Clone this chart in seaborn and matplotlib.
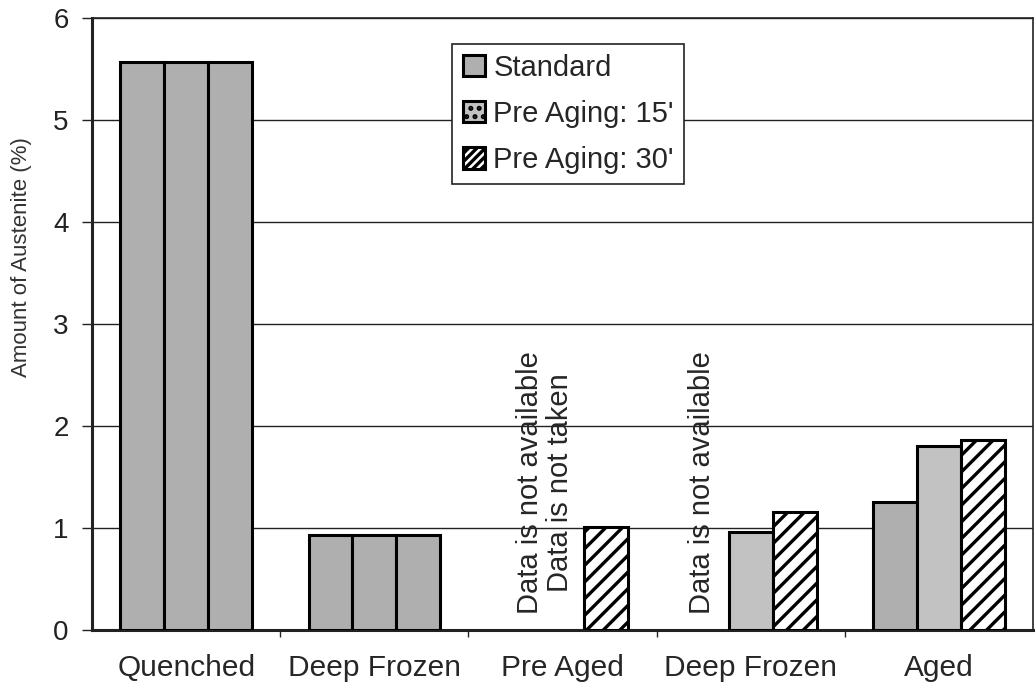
import numpy as np
import pandas as pd
import seaborn as sns
import matplotlib
matplotlib.use('Agg')
import matplotlib.pyplot as plt

sns.set_style('white')
plt.rcParams['font.family'] = ['Liberation Sans', 'DejaVu Sans']
plt.rcParams['hatch.linewidth'] = 2.4

# data
categories = ['Quenched', 'Deep Frozen 1', 'Pre Aged', 'Deep Frozen 2', 'Aged']
tick_labels = ['Quenched', 'Deep Frozen', 'Pre Aged', 'Deep Frozen', 'Aged']
series = ['Standard', "Pre Aging: 15'", "Pre Aging: 30'"]
standard = [5.57, 0.93, np.nan, np.nan, 1.25]
pre_aging_15 = [5.57, 0.93, np.nan, 0.96, 1.80]
pre_aging_30 = [5.57, 0.93, 1.01, 1.16, 1.86]

df = pd.DataFrame({'category': categories,
                   series[0]: standard,
                   series[1]: pre_aging_15,
                   series[2]: pre_aging_30})
df_long = pd.melt(df, id_vars=['category'], value_vars=series)

gray_std = '#afafaf'
gray_15 = '#c2c2c2'

fig = plt.figure(figsize=(10.35, 6.9), dpi=100)
ax = fig.add_axes([0.089, 0.087, 0.909, 0.887])

ax = sns.barplot(ax=ax, data=df_long, x='category', y='value', hue='variable',
                 order=categories, hue_order=series,
                 palette=[gray_std, gray_15, 'white'],
                 width=0.7, gap=0, edgecolor='black', linewidth=2.2,
                 zorder=3)

# hatching for 30' series, but first two groups are all drawn plain gray
for i, cont in enumerate(ax.containers):
    for bar in cont:
        xc = bar.get_x() + bar.get_width() / 2
        cat = int(round(xc))
        if cat in (0, 1):
            bar.set_facecolor(gray_std)
            bar.set_hatch(None)
        elif i == 2:
            bar.set_hatch('//')

ax.set_xlim(-0.5, 4.5)
ax.set_ylim(0, 6)
ax.set_yticks(range(7))
ax.set_xticks(range(len(categories)))
ax.set_xticklabels(tick_labels)
ax.set_xticks(np.arange(0.5, 4.5, 1), minor=True)

ax.yaxis.grid(True, color='#222222', linewidth=1.0, zorder=0)
ax.set_axisbelow(True)

for s in ax.spines.values():
    s.set_color('#222222')
    s.set_linewidth(1.2)
ax.spines['left'].set_linewidth(2.2)
ax.spines['bottom'].set_linewidth(2.2)

ax.tick_params(axis='y', which='major', left=True, length=7, width=1,
               pad=10, labelsize=20, colors='#222222')
ax.tick_params(axis='x', which='major', bottom=False, pad=14, labelsize=21.5)
ax.tick_params(axis='x', which='minor', bottom=True, length=5, width=1)

ax.set_xlabel('')
ax.set_ylabel('Amount of Austenite (%)', fontsize=16, color='#333333')
ax.yaxis.set_label_coords(-0.064, 0.61)

# notes for missing bars
ax.text(1.905, 0.16, 'Data is not available\nData is not taken', rotation=90,
        ha='center', va='bottom', fontsize=21, linespacing=1.1, zorder=4)
ax.text(2.74, 0.16, 'Data is not available', rotation=90,
        ha='center', va='bottom', fontsize=21, zorder=4)

leg = ax.legend(loc='upper left', bbox_to_anchor=(0.383, 0.958), fontsize=21,
                frameon=True, fancybox=False, framealpha=1, edgecolor='#222222',
                handlelength=0.75, handleheight=0.75, handletextpad=0.3,
                borderpad=0.35, labelspacing=0.62, borderaxespad=0)
leg.get_frame().set_linewidth(1.2)
leg.set_zorder(5)
leg.legend_handles[2].set_hatch('////')
leg.legend_handles[1].set_hatch('..')

fig.savefig('out.png', dpi=100)
